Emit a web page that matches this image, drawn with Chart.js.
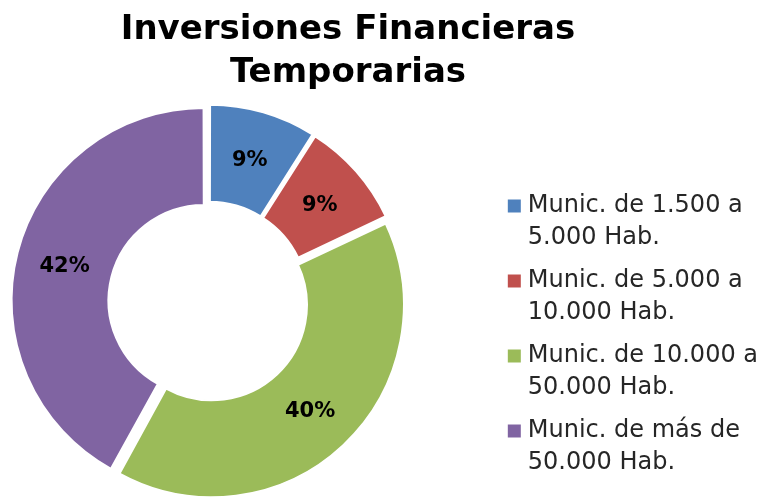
<!DOCTYPE html>
<html><head><meta charset="utf-8">
<script src="https://cdn.jsdelivr.net/npm/chart.js@4/dist/chart.umd.min.js"></script>
<style>html,body{margin:0;padding:0;background:#fff;overflow:hidden}</style>
</head><body>
<canvas id="c" width="763" height="498" style="display:block;width:763px;height:498px"></canvas>
<script>
const titleLines = ['Inversiones Financieras', 'Temporarias'];
const categories = [
  ['Munic. de 1.500 a', '5.000 Hab.'],
  ['Munic. de 5.000 a', '10.000 Hab.'],
  ['Munic. de 10.000 a', '50.000 Hab.'],
  ['Munic. de más de', '50.000 Hab.']
];
const values = [9, 9, 40, 42];
const colors = ['#4F81BD', '#C0504D', '#9BBB59', '#8064A2'];

const labelPlugin = {
  id: 'sliceLabels',
  afterDatasetsDraw(chart) {
    const ctx = chart.ctx;
    const meta = chart.getDatasetMeta(0);
    const total = values.reduce((a, b) => a + b, 0);
    ctx.save();
    ctx.font = 'bold 21px "DejaVu Sans"';
    ctx.fillStyle = '#000';
    ctx.textAlign = 'center';
    ctx.textBaseline = 'middle';
    meta.data.forEach((arc, i) => {
      const p = arc.getProps(['x', 'y', 'startAngle', 'endAngle', 'innerRadius', 'outerRadius', 'circumference'], true);
      const mid = (p.startAngle + p.endAngle) / 2;
      const off = (arc.options.offset || 0) / 4;
      const fix = 1 - Math.sin(Math.min(Math.PI, p.circumference || 0));
      const r = (p.innerRadius + p.outerRadius) / 2 + off * (1 + fix);
      const txt = Math.round(values[i] / total * 100) + '%';
      ctx.fillText(txt, p.x + Math.cos(mid) * r, p.y + Math.sin(mid) * r + 2);
    });
    ctx.restore();
  }
};

// Excel-like layout: plot area reaches past the left edge, title centred over plot + legend
const layoutTweak = {
  id: 'layoutTweak',
  afterLayout(chart) {
    const overhang = 85;
    chart.chartArea.left -= overhang;
    chart.chartArea.width += overhang;
    if (chart.titleBlock) { chart.titleBlock.left = -72; }
  }
};

new Chart(document.getElementById('c'), {
  type: 'doughnut',
  data: {
    labels: categories,
    datasets: [{
      data: values,
      backgroundColor: colors,
      borderColor: '#ffffff',
      borderWidth: 2,
      offset: [19, 19, 19.8, 18.4]
    }]
  },
  options: {
    responsive: false,
    animation: false,
    devicePixelRatio: 1,
    radius: 190,
    cutout: '49%',
    layout: { padding: { left: 0, right: -5, top: 0, bottom: 4 } },
    plugins: {
      title: {
        display: true,
        text: titleLines,
        color: '#000',
        font: { family: '"DejaVu Sans"', size: 34, weight: 'bold', lineHeight: 1.28 },
        padding: { top: 8, bottom: 14 }
      },
      legend: {
        position: 'right',
        align: 'end',
        labels: {
          color: '#262626',
          font: { family: '"DejaVu Sans"', size: 24, lineHeight: 1.333 },
          usePointStyle: true,
          pointStyle: 'rect',
          boxWidth: 3,
          boxHeight: 15,
          padding: 11
        }
      },
      tooltip: { enabled: false }
    }
  },
  plugins: [labelPlugin, layoutTweak]
});
</script>
</body></html>
